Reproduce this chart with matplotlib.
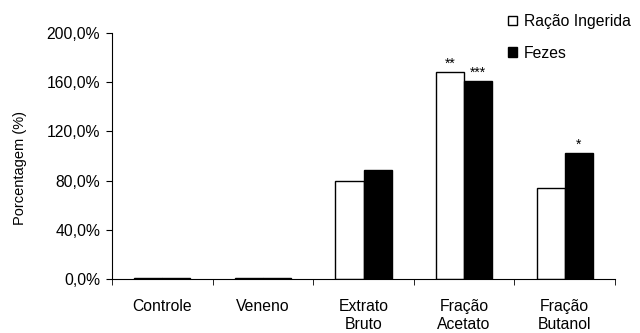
#Bar chart: food intake and feces (%)
import numpy as np
import matplotlib.pyplot as plt
from matplotlib.ticker import FuncFormatter

plt.rcParams['font.family'] = ['Liberation Sans', 'DejaVu Sans']

categorias = ['Controle', 'Veneno', 'Extrato\nBruto', 'Fração\nAcetato', 'Fração\nButanol']
racao = [1.0, 1.0, 79.8, 168.4, 74.3]
fezes = [1.0, 1.0, 88.9, 160.9, 102.7]
sig_racao = ['', '', '', '**', '']
sig_fezes = ['', '', '', '***', '*']

x = np.arange(len(categorias))
w = 0.28
fs = 11.3

fig = plt.figure(figsize=(6.4, 3.33), dpi=100)
ax = fig.add_axes([0.175, 0.161, 0.786, 0.741])

b1 = ax.bar(x - w/2, racao, w, color='white', edgecolor='black', linewidth=1.0, label='Ração Ingerida')
b2 = ax.bar(x + w/2, fezes, w, color='black', edgecolor='black', linewidth=1.0, label='Fezes')

for i in range(len(x)):
    if sig_racao[i]:
        ax.text(x[i] - w/2, racao[i] + 1, sig_racao[i], ha='center', va='bottom', fontsize=10)
    if sig_fezes[i]:
        ax.text(x[i] + w/2, fezes[i] + 1, sig_fezes[i], ha='center', va='bottom', fontsize=10)

ax.set_xlim(-0.5, len(x) - 0.5)
ax.set_ylim(0, 200)
ax.set_yticks(np.arange(0, 201, 40))
ax.yaxis.set_major_formatter(FuncFormatter(lambda v, p: ('%.1f%%' % v).replace('.', ',')))
ax.set_xticks(x)
ax.set_xticklabels(categorias, fontsize=fs, linespacing=1.25)
ax.set_xticks(np.arange(-0.5, len(x), 1), minor=True)
ax.tick_params(axis='x', which='major', length=0, pad=14)
ax.tick_params(axis='x', which='minor', length=4, direction='out')
ax.tick_params(axis='y', labelsize=fs, length=4.5, direction='out', pad=4)
ax.set_ylabel('Porcentagem (%)', fontsize=10.5)
ax.yaxis.set_label_coords(-0.169, 0.45)

ax.spines['top'].set_visible(False)
ax.spines['right'].set_visible(False)

fig.legend(handles=[b1, b2], loc='upper left', bbox_to_anchor=(0.772, 1.0), frameon=False,
           fontsize=fs, handlelength=0.55, handleheight=0.55, handletextpad=0.45, labelspacing=1.05)

plt.savefig('out.png', dpi=100)
